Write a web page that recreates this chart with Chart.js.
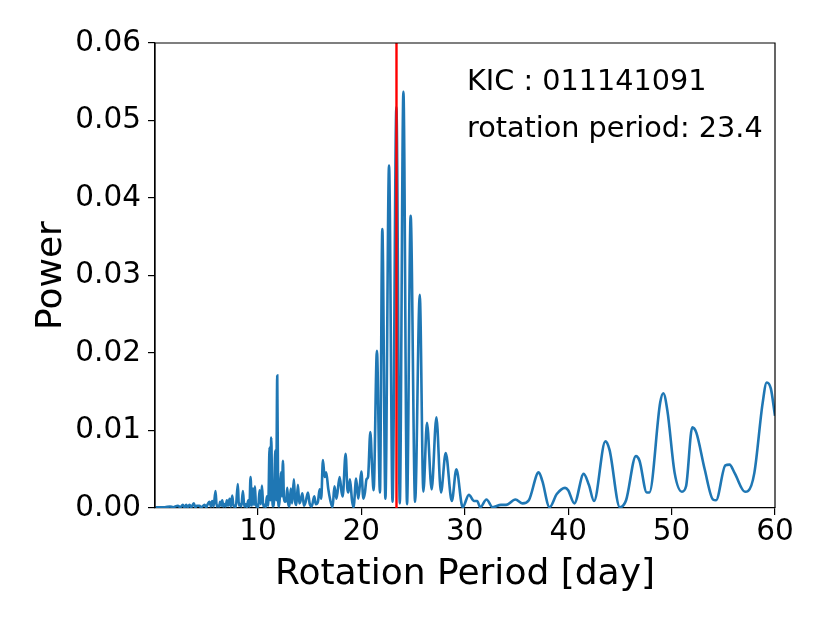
<!DOCTYPE html>
<html>
<head>
<meta charset="utf-8">
<script src="https://cdn.jsdelivr.net/npm/chart.js@4.4.1/dist/chart.umd.min.js"></script>
<style>
  html, body { margin: 0; padding: 0; background: #fff; }
  #wrap { width: 830px; height: 623px; }
</style>
</head>
<body>
<div id="wrap"><canvas id="periodogram" width="830" height="623"></canvas></div>
<script>
// periodogram
const periods = [
  0.1, 0.5, 1.0, 1.5, 1.8, 2.26, 2.5, 2.74, 2.9, 3.07, 3.2, 3.39, 3.55, 3.8, 3.95, 4.1, 4.35, 4.5, 4.84, 5.0,
  5.15, 5.32, 5.45, 5.58, 5.72, 5.9, 6.02, 6.13, 6.25, 6.35, 6.45, 6.55, 6.66, 6.77, 6.88, 7.0, 7.12, 7.26, 7.38, 7.52,
  7.64, 7.74, 7.86, 8.06, 8.16, 8.28, 8.4, 8.55, 8.68, 8.81, 8.93, 9.07, 9.18, 9.29, 9.41, 9.52, 9.62, 9.71, 9.82, 9.92,
  10.03, 10.16, 10.28, 10.39, 10.52, 10.65, 10.76, 10.87, 11.0, 11.13, 11.21, 11.29, 11.38, 11.45, 11.57, 11.68, 11.77, 11.87, 11.96, 12.05,
  12.14, 12.23, 12.32, 12.42, 12.52, 12.63, 12.74, 12.84, 12.94, 13.05, 13.18, 13.3, 13.48, 13.6, 13.72, 13.87, 14.0, 14.1, 14.3, 14.45,
  14.62, 14.84, 15.0, 15.2, 15.45, 15.6, 15.8, 15.97, 16.12, 16.29, 16.45, 16.6, 16.8, 17.0, 17.22, 17.4, 17.6, 17.9, 18.1, 18.2,
  18.48, 18.65, 18.75, 18.9, 19.1, 19.25, 19.5, 19.7, 19.85, 20.0, 20.2, 20.35, 20.5, 20.65, 20.87, 21.05, 21.19, 21.51, 21.8, 22.03,
  22.33, 22.68, 23.02, 23.39, 23.72, 24.07, 24.42, 24.77, 25.2, 25.65, 26.0, 26.35, 26.8, 27.26, 27.7, 28.16, 28.75, 29.19, 29.8, 30.4,
  30.9, 31.2, 31.5, 32.1, 32.7, 33.5, 34.0, 34.9, 35.6, 36.2, 37.15, 37.5, 38.2, 38.9, 39.7, 40.0, 40.6, 41.5, 42.0, 42.5,
  43.6, 44.0, 45.0, 45.6, 46.55, 46.9, 47.6, 47.85, 48.9, 49.2, 49.6, 50.3, 51.0, 51.4, 52.0, 52.4, 53.2, 54.0, 54.3, 55.2,
  55.6, 56.1, 57.1, 57.4, 58.0, 58.8, 59.2, 59.6, 60.0
];
const powers = [
  0.0001, 0.0001, 0.0001, 0.0002, 0.0001, 0.0003, 0.0001, 0.0004, 0.0001, 0.0004, 0.0001, 0.0004, 0.0001, 0.0006, 0.0001, 0.0003, 0.0003, 0.0001, 0.0004, 0.0001,
  0.0005, 0.0008, 0.0002, 0.0009, 0.0002, 0.0022, 0.0002, 0.0003, 0.0002, 0.0008, 0.0003, 0.0010, 0.0002, 0.0005, 0.0002, 0.0010, 0.0003, 0.0012, 0.0002, 0.0016,
  0.0002, 0.0003, 0.0001, 0.0031, 0.0003, 0.0005, 0.0002, 0.0022, 0.0002, 0.0005, 0.0001, 0.0010, 0.0002, 0.0040, 0.0003, 0.0025, 0.0004, 0.0028, 0.0002, 0.0004,
  0.0001, 0.0023, 0.0005, 0.0029, 0.0002, 0.0004, 0.0001, 0.0015, 0.0003, 0.0078, 0.0010, 0.0091, 0.0020, 0.0002, 0.0012, 0.0074, 0.0010, 0.0171, 0.0010, 0.0002,
  0.0020, 0.0046, 0.0015, 0.0061, 0.0012, 0.0008, 0.0010, 0.0026, 0.0005, 0.0002, 0.0025, 0.0006, 0.0037, 0.0008, 0.0004, 0.0030, 0.0006, 0.0008, 0.0019, 0.0003,
  0.0008, 0.0020, 0.0006, 0.0002, 0.0015, 0.0005, 0.0008, 0.0024, 0.0012, 0.0062, 0.0040, 0.0046, 0.0025, 0.0010, 0.0001, 0.0028, 0.0012, 0.0040, 0.0020, 0.0015,
  0.0070, 0.0025, 0.0020, 0.0037, 0.0010, 0.0001, 0.0038, 0.0012, 0.0028, 0.0047, 0.0012, 0.0020, 0.0037, 0.0040, 0.0098, 0.0050, 0.0023, 0.0203, 0.0020, 0.0360,
  0.0012, 0.0442, 0.0008, 0.0517, 0.0006, 0.0537, 0.0005, 0.0377, 0.0008, 0.0275, 0.0021, 0.0110, 0.0024, 0.0117, 0.0020, 0.0071, 0.0009, 0.0050, 0.0001, 0.0017,
  0.0009, 0.0009, 0.0001, 0.0011, 0.0001, 0.0004, 0.0004, 0.0011, 0.0006, 0.0010, 0.0046, 0.0035, 0.0001, 0.0018, 0.0026, 0.0023, 0.0006, 0.0044, 0.0030, 0.0009,
  0.0086, 0.0075, 0.0001, 0.0010, 0.0067, 0.0061, 0.0020, 0.0020, 0.0136, 0.0148, 0.0125, 0.0045, 0.0021, 0.0028, 0.0104, 0.0097, 0.0050, 0.0011, 0.0010, 0.0055,
  0.0056, 0.0045, 0.0021, 0.0022, 0.0045, 0.0135, 0.0162, 0.0154, 0.0119
];
const rotationPeriod = 23.4;
const starId = '011141091';
const xTicks = [10, 20, 30, 40, 50, 60];
const yTicks = [0, 0.01, 0.02, 0.03, 0.04, 0.05, 0.06];

const FONT = 'DejaVu Sans';

// spines on top and right + the text box
const framePlugin = {
    id: 'frame',
    afterDraw(chart) {
        const { ctx, chartArea: a } = chart;
        ctx.save();
        ctx.strokeStyle = '#000';
        ctx.lineWidth = 1.2;
        ctx.beginPath();
        ctx.moveTo(a.left, a.bottom);
        ctx.lineTo(a.left, a.top);
        ctx.lineTo(a.right, a.top);
        ctx.lineTo(a.right, a.bottom);
        ctx.stroke();
        ctx.fillStyle = '#000';
        ctx.font = `28.7px "${FONT}"`;
        ctx.textAlign = 'left';
        ctx.textBaseline = 'alphabetic';
        ctx.fillText(`KIC : ${starId}`, a.left + 312, a.top + 47);
        ctx.fillText(`rotation period: ${rotationPeriod}`, a.left + 312, a.top + 94);
        ctx.restore();
    }
};

const ctx = document.getElementById('periodogram').getContext('2d');
new Chart(ctx, {
    type: 'line',
    data: {
        datasets: [
            {
                data: [{ x: rotationPeriod, y: yTicks[0] }, { x: rotationPeriod, y: yTicks[yTicks.length - 1] }],
                borderColor: '#ff0000',
                borderWidth: 2.4,
                pointRadius: 0,
                order: 0
            },
            {
                data: periods.map((p, i) => ({ x: p, y: powers[i] })),
                borderColor: '#1f77b4',
                borderWidth: 2.6,
                pointRadius: 0,
                cubicInterpolationMode: 'monotone',
                order: 1
            }
        ]
    },
    options: {
        responsive: false,
        animation: false,
        devicePixelRatio: 1,
        layout: { padding: { top: 43, right: 55, left: 0, bottom: 0 } },
        plugins: {
            legend: { display: false },
            tooltip: { enabled: false }
        },
        scales: {
            x: {
                type: 'linear',
                min: 0.05,
                max: 60,
                afterBuildTicks: scale => { scale.ticks = xTicks.map(v => ({ value: v })); },
                afterFit: scale => { scale.height = 115; },
                grid: { drawOnChartArea: false, drawTicks: true, tickLength: 7, color: '#000', lineWidth: 1.2 },
                border: { display: true, color: '#000', width: 1.2 },
                ticks: { color: '#000', padding: 0, maxRotation: 0, font: { family: FONT, size: 29.5 } },
                title: {
                    display: true,
                    text: 'Rotation Period [day]',
                    color: '#000',
                    font: { family: FONT, size: 36 },
                    padding: { top: 0, bottom: 27 }
                }
            },
            y: {
                min: 0,
                max: 0.06,
                afterBuildTicks: scale => { scale.ticks = yTicks.map(v => ({ value: v })); },
                afterFit: scale => { scale.width = 155; },
                grid: { drawOnChartArea: false, drawTicks: true, tickLength: 7, color: '#000', lineWidth: 1.2 },
                border: { display: true, color: '#000', width: 1.2 },
                ticks: {
                    color: '#000',
                    padding: 7,
                    font: { family: FONT, size: 29.5 },
                    callback: v => v.toFixed(2)
                },
                title: {
                    display: true,
                    text: 'Power',
                    color: '#000',
                    font: { family: FONT, size: 36 },
                    padding: { top: 30, bottom: 0 }
                }
            }
        }
    },
    plugins: [framePlugin]
});
</script>
</body>
</html>
